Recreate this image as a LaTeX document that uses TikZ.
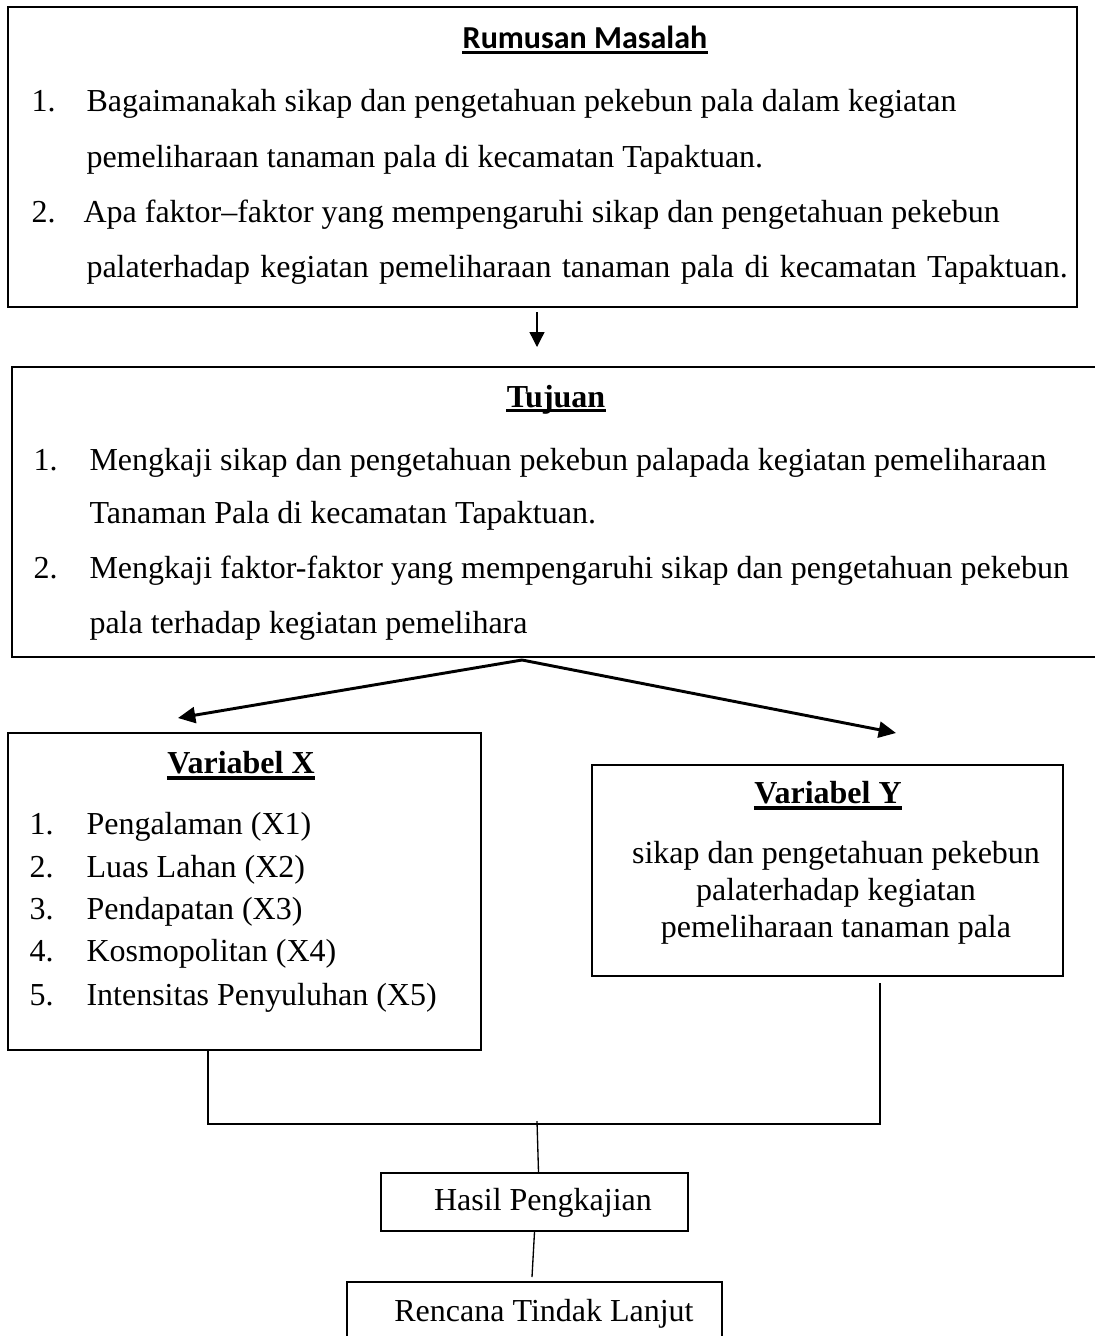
\documentclass[tikz,border=0pt]{standalone}
\usepackage{fontspec}
\setmainfont{Liberation Serif}
\newfontfamily\titlefont{Carlito}
\usepackage{tikz}
\usetikzlibrary{arrows.meta}
\usetikzlibrary{calc}
\usetikzlibrary{fit}

\begin{document}
\begin{tikzpicture}[
            x=0.375pt, y=-0.375pt,
            font=\fontsize{12}{14}\selectfont,
            box/.style={
                draw=black, line width=0.8pt, inner sep=0pt,
            },
            body/.style={
                inner sep=0pt, anchor=base west,
            },
            midtext/.style={
                inner sep=0pt, anchor=base,
            },
            heading/.style={
                inner sep=0pt, anchor=base, font=\fontsize{12}{14}\selectfont\bfseries,
            },
            uline/.style={line width=1.3pt},
            flow/.style={-{Triangle[length=5.6pt, width=5.6pt]}, line width=0.5pt},
            split/.style={-{Triangle[length=6.5pt, width=6pt]}, line width=1.1pt},
            link/.style={line width=0.5pt},
        ]
            \useasboundingbox (0,0) rectangle (1094,1336);

            % --- boxes ---
            \node[box, fit={(8,7) (1077,307)}] (rumusan) {};
            \node[box, fit={(12,367) (1102,657)}] (tujuan) {};
            \node[box, fit={(8,733) (481,1050)}] (varX) {};
            \node[box, fit={(592,765) (1063,976)}] (varY) {};
            \node[box, fit={(381,1173) (688,1231)}] (hasil) {};
            \node[box, fit={(347,1282) (722,1360)}] (rencana) {};

            % --- rumusan masalah ---
            \node[heading, font=\titlefont\fontsize{12}{14}\selectfont\bfseries] (ttlRumusan) at (585,48) {Rumusan Masalah};
            \node[body] (rmNum1) at (31,111) {1.};
            \node[body] (rmLine1) at (86,111) {Bagaimanakah sikap dan pengetahuan pekebun pala dalam kegiatan};
            \node[body] (rmLine2) at (86,167) {pemeliharaan tanaman pala di kecamatan Tapaktuan.};
            \node[body] (rmNum2) at (31,222) {2.};
            \node[body] (rmLine3) at (83,222) {Apa faktor--faktor yang mempengaruhi sikap dan pengetahuan pekebun};
            \node[body] (rmLine4) at (86,277) {\spaceskip=3.9pt\relax palaterhadap kegiatan pemeliharaan tanaman pala di kecamatan Tapaktuan.};

            % --- tujuan ---
            \node[heading] (ttlTujuan) at (556,407) {Tujuan};
            \node[body] (tjNum1) at (33,470) {1.};
            \node[body] (tjLine1) at (89,470) {Mengkaji sikap dan pengetahuan pekebun palapada kegiatan pemeliharaan};
            \node[body] (tjLine2) at (89,523) {Tanaman Pala di kecamatan Tapaktuan.};
            \node[body] (tjNum2) at (33,578) {2.};
            \node[body] (tjLine3) at (89,578) {Mengkaji faktor-faktor yang mempengaruhi sikap dan pengetahuan pekebun};
            \node[body] (tjLine4) at (89,633) {pala terhadap kegiatan pemelihara};

            % --- variabel X ---
            \node[heading] (ttlVarX) at (241,773) {Variabel X};
            \node[body] (vxNum1) at (29,834) {1.};
            \node[body] (vxItem1) at (86,834) {Pengalaman (X1)};
            \node[body] (vxNum2) at (29,877) {2.};
            \node[body] (vxItem2) at (86,877) {Luas Lahan (X2)};
            \node[body] (vxNum3) at (29,919) {3.};
            \node[body] (vxItem3) at (86,919) {Pendapatan (X3)};
            \node[body] (vxNum4) at (29,961) {4.};
            \node[body] (vxItem4) at (86,961) {Kosmopolitan (X4)};
            \node[body] (vxNum5) at (29,1005) {5.};
            \node[body] (vxItem5) at (86,1005) {Intensitas Penyuluhan (X5)};

            % --- variabel Y ---
            \node[heading] (ttlVarY) at (828,803) {Variabel Y};
            \node[midtext] (vyLine1) at (836,863) {sikap dan pengetahuan pekebun};
            \node[midtext] (vyLine2) at (836,900) {palaterhadap kegiatan};
            \node[midtext] (vyLine3) at (836,937) {pemeliharaan tanaman pala};

            % --- hasil and rencana ---
            \node[midtext] (hasilText) at (543,1210) {Hasil Pengkajian};
            \node[midtext] (rencanaText) at (544,1321) {Rencana Tindak Lanjut};

            % --- underlined headings ---
            \draw[uline] ([yshift=-1.6pt]ttlRumusan.base west) -- ([yshift=-1.6pt]ttlRumusan.base east);
            \draw[uline] ([yshift=-1.4pt]ttlTujuan.base west) -- ([yshift=-1.4pt]ttlTujuan.base east);
            \draw[uline] ([yshift=-1.8pt]ttlVarX.base west) -- ([yshift=-1.8pt]ttlVarX.base east);
            \draw[uline] ([yshift=-1.8pt]ttlVarY.base west) -- ([yshift=-1.8pt]ttlVarY.base east);

            % --- arrows ---
            \coordinate (arTail) at (537,312);
            \coordinate (arHead) at (537,347);
            \draw[flow] (arTail) -- (arHead);

            \coordinate (forkTop) at (522,660);
            \coordinate (tipX) at (178,718);
            \coordinate (tipY) at (896,733);
            \draw[split] (forkTop) -- (tipX);
            \draw[split] (forkTop) -- (tipY);

            % --- join lines below the variables ---
            \coordinate (joinL) at (208,1124);
            \coordinate (joinR) at (880,1124);
            \coordinate (footY) at (880,983);
            \draw[link] (varX.south -| joinL) -- (joinL) -- (joinR) -- (footY);

            \coordinate (joinM) at (537,1121);
            \draw[link] (joinM) -- ($(hasil.north)+(4,0)$);
            \coordinate (rtTop) at (532,1277);
            \draw[link] (hasil.south) -- (rtTop);
        \end{tikzpicture}
\end{document}
